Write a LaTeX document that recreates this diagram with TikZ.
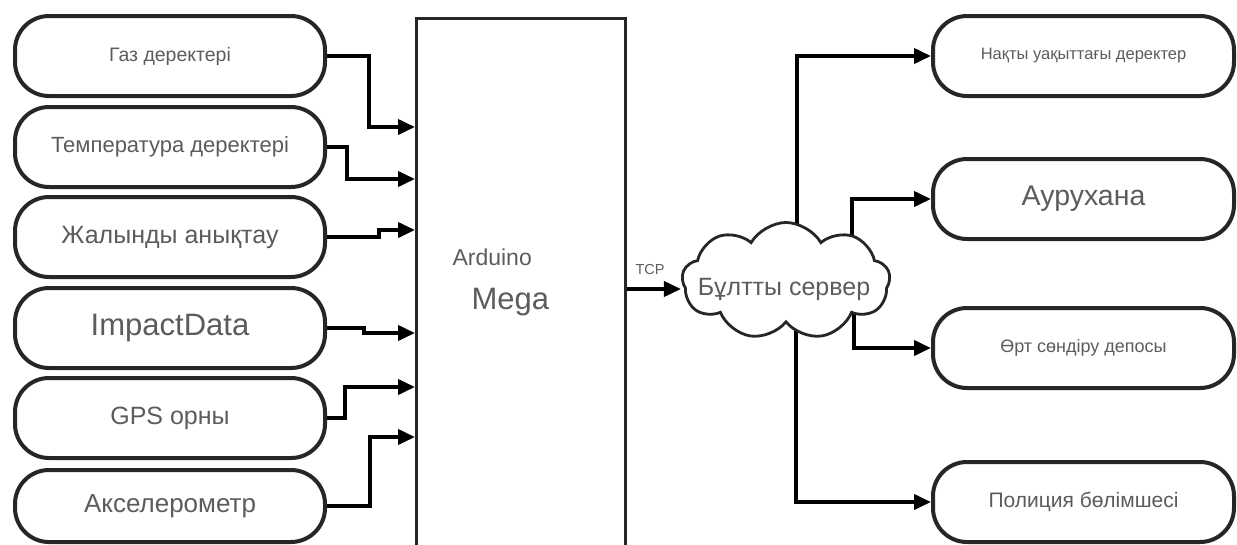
\documentclass[tikz,border=0pt]{standalone}
\usepackage{fontspec}
\setmainfont{Liberation Sans}
\usetikzlibrary{arrows.meta,shapes.symbols,backgrounds,calc}
\definecolor{txtgray}{HTML}{5C5C5C}
\definecolor{linegray}{HTML}{262626}
\begin{document}
\begin{tikzpicture}[x=1pt,y=-1pt,
  fs/.style={font=\fontsize{#1}{#1}\selectfont},
  sbox/.style={draw=linegray, line width=4pt, rounded corners=34pt, fill=white,
     text=txtgray, inner sep=0pt, minimum height=80pt},
  inbox/.style={sbox, minimum width=310pt},
  outbox/.style={sbox, minimum width=301pt},
  conn/.style={draw=black, line width=3.8pt, -{Triangle[length=17pt,width=15pt]}}
]
\useasboundingbox (0,0) rectangle (1237,544);
\clip (0,0) rectangle (1237,544);

% level coordinates
\coordinate (y127) at (0,127);
\coordinate (y179) at (0,179);
\coordinate (y230) at (0,230);
\coordinate (y333) at (0,333);
\coordinate (y387) at (0,387);
\coordinate (y437) at (0,437);
\coordinate (y289) at (0,289);

% left boxes
\node[inbox, fs=19.5] (b1) at (170,56) {Газ деректері};
\node[inbox, fs=22] (b2) at (170,147) {Температура деректері};
\node[inbox, fs=25] (b3) at (170,237) {Жалынды анықтау};
\node[inbox, fs=31] (b4) at (170,328) {ImpactData};
\node[inbox, fs=25] (b5) at (170,418) {GPS орны};
\node[inbox, fs=26, minimum height=72pt] (b6) at (170,506) {Акселерометр};

% Arduino
\node[draw=linegray, line width=3.2pt, minimum width=209pt, minimum height=580pt,
      anchor=north west, inner sep=0pt] (ard) at (415,17) {};
\node[fs=23, text=txtgray, anchor=west] (ardt) at (449,257) {Arduino};
\node[fs=31, text=txtgray, anchor=west] (mega) at (468,302) {Mega};

% cloud
\node[cloud, cloud puffs=9, cloud puff arc=120, aspect=1.8, draw=linegray,
      line width=2.8pt, fill=white, inner sep=0pt,
      minimum width=208pt, minimum height=117pt] (cl) at (786,281) {};
\node[fs=25, text=txtgray] (clt) at (784,289) {Бұлтты сервер};
\node[fs=14.5, text=txtgray] (tcp) at (650,270) {TCP};

% right boxes
\node[outbox, fs=16.5] (r1) at (1083.5,56) {Нақты уақыттағы деректер};
\node[outbox, fs=28.5] (r2) at (1083.5,199) {Аурухана};
\node[outbox, fs=18] (r3) at (1083.5,348) {Өрт сөндіру депосы};
\node[outbox, fs=21] (r4) at (1083.5,502) {Полиция бөлімшесі};

% connectors
\draw[conn] (b1.east) -- ++(42,0) |- (ard.west |- y127);
\draw[conn] (b2.east) -- ++(20,0) |- (ard.west |- y179);
\draw[conn] (b3.east) -- ++(52,0) |- (ard.west |- y230);
\draw[conn] (b4.east) -- ++(37,0) |- (ard.west |- y333);
\draw[conn] (b5.east) -- ++(18,0) |- (ard.west |- y387);
\draw[conn] (b6.east) -- ++(43,0) |- (ard.west |- y437);

\draw[conn] (ard.east |- y289) -- (cl.west |- y289);

\begin{pgfonlayer}{background}
\draw[conn] ($(cl.center)+(11,0)$) |- (r1.west);
\draw[conn] ($(cl.center)+(66,0)$) |- (r2.west);
\draw[conn] ($(cl.center)+(68,0)$) |- (r3.west);
\draw[conn] ($(cl.center)+(10,0)$) |- (r4.west);
\end{pgfonlayer}
\end{tikzpicture}
\end{document}
